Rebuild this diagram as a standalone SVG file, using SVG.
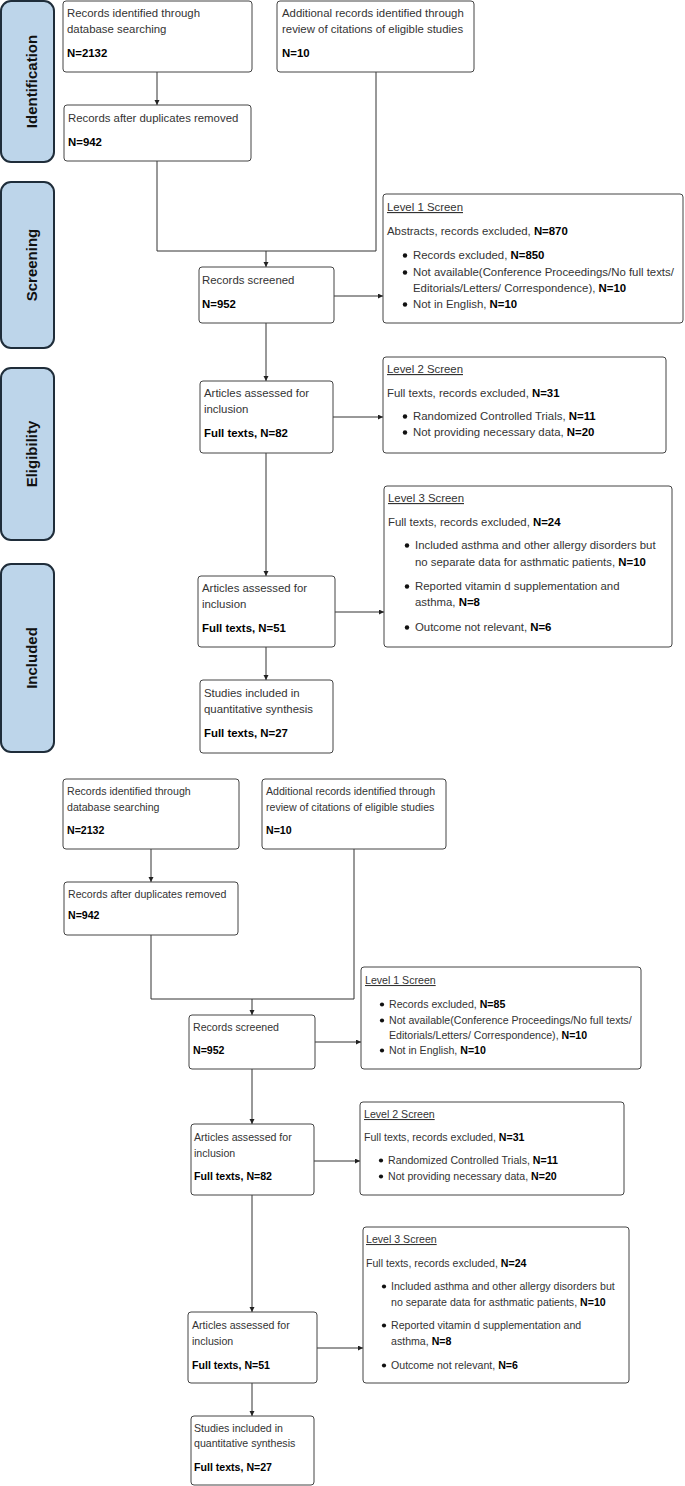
<svg xmlns="http://www.w3.org/2000/svg" width="685" height="1486" viewBox="0 0 685 1486">
<style>
.bg{fill:#fff}
.side rect{fill:#bdd5ea;stroke:#1f2d3a;stroke-width:2}
.side text{font-family:"Liberation Sans",Arial,sans-serif;font-weight:bold;font-size:15px;fill:#111;text-anchor:middle}
.box{fill:#fff;stroke:#444;stroke-width:1}
.t{font-family:"Liberation Sans",Arial,sans-serif;font-size:11.4px;fill:#333}
.b{font-family:"Liberation Sans",Arial,sans-serif;font-size:11.4px;fill:#000;font-weight:bold}
.t2{font-family:"Liberation Sans",Arial,sans-serif;font-size:10.6px;fill:#333}
.b2{font-family:"Liberation Sans",Arial,sans-serif;font-size:10.6px;fill:#000;font-weight:bold}
.nb{font-weight:bold;fill:#000}
.u{text-decoration:underline}
.dot{fill:#111}
.con line,.con polyline{stroke:#333;stroke-width:1;fill:none}
.arr{marker-end:url(#ah)}
</style>
<defs>
<marker id="ah" markerUnits="userSpaceOnUse" markerWidth="6" markerHeight="6" refX="5" refY="2.5" orient="auto">
<path d="M0,0 L5,2.5 L0,5 z" fill="#222"/>
</marker>
</defs>
<rect class="bg" x="0" y="0" width="685" height="1486"/>

<g id="side-identification" class="side"><rect x="1" y="1" width="53" height="161" rx="10"/><text transform="translate(37,81.5) rotate(-90)">Identification</text></g>
<g id="side-screening" class="side"><rect x="1" y="182" width="53" height="166" rx="10"/><text transform="translate(37,265) rotate(-90)">Screening</text></g>
<g id="side-eligibility" class="side"><rect x="1" y="368" width="53" height="172" rx="10"/><text transform="translate(37,454) rotate(-90)">Eligibility</text></g>
<g id="side-included" class="side"><rect x="1" y="564" width="53" height="188" rx="10"/><text transform="translate(37,658) rotate(-90)">Included</text></g>

<g class="con" id="connectors-top">
<line class="arr" x1="157" y1="72" x2="157" y2="105"/>
<polyline points="157,161 157,251 376,251"/>
<line x1="376" y1="72" x2="376" y2="251"/>
<line class="arr" x1="266" y1="251" x2="266" y2="267"/>
<line class="arr" x1="334" y1="296" x2="383" y2="296"/>
<line class="arr" x1="266" y1="323" x2="266" y2="381"/>
<line class="arr" x1="333" y1="417" x2="383" y2="417"/>
<line class="arr" x1="266" y1="453" x2="266" y2="576"/>
<line class="arr" x1="335" y1="612" x2="384" y2="612"/>
<line class="arr" x1="266" y1="647" x2="266" y2="680"/>
</g>

<g id="n-db1"><rect class="box" x="63" y="1" width="189" height="71" rx="3"/>
<text class="t" x="67" y="17">Records identified through</text>
<text class="t" x="67" y="33">database searching</text>
<text class="b" x="67" y="57">N=2132</text></g>

<g id="n-add1"><rect class="box" x="277" y="1" width="197" height="71" rx="3"/>
<text class="t" x="282" y="17">Additional records identified through</text>
<text class="t" x="282" y="33">review of citations of eligible studies</text>
<text class="b" x="282" y="57">N=10</text></g>

<g id="n-dup1"><rect class="box" x="64" y="105" width="187" height="56" rx="3"/>
<text class="t" x="68" y="122">Records after duplicates removed</text>
<text class="b" x="68" y="146">N=942</text></g>

<g id="n-scr1"><rect class="box" x="199" y="267" width="135" height="56" rx="3"/>
<text class="t" x="202" y="284">Records screened</text>
<text class="b" x="202" y="308">N=952</text></g>

<g id="n-l1a"><rect class="box" x="383" y="194" width="300" height="129" rx="3"/>
<text class="t u" x="387" y="211">Level 1 Screen</text>
<text class="t" x="387" y="235">Abstracts, records excluded, <tspan class="nb">N=870</tspan></text>
<circle class="dot" cx="405" cy="255.5" r="2.2"/>
<text class="t" x="413" y="259">Records excluded, <tspan class="nb">N=850</tspan></text>
<circle class="dot" cx="405" cy="272.5" r="2.2"/>
<text class="t" x="413" y="276">Not available(Conference Proceedings/No full texts/</text>
<text class="t" x="413" y="292">Editorials/Letters/ Correspondence), <tspan class="nb">N=10</tspan></text>
<circle class="dot" cx="405" cy="304.5" r="2.2"/>
<text class="t" x="413" y="308">Not in English, <tspan class="nb">N=10</tspan></text></g>

<g id="n-art1a"><rect class="box" x="200" y="381" width="133" height="72" rx="3"/>
<text class="t" x="204" y="397">Articles assessed for</text>
<text class="t" x="204" y="413">inclusion</text>
<text class="b" x="204" y="437">Full texts, N=82</text></g>

<g id="n-l2a"><rect class="box" x="383" y="357" width="283" height="96" rx="3"/>
<text class="t u" x="387" y="373">Level 2 Screen</text>
<text class="t" x="387" y="397">Full texts, records excluded, <tspan class="nb">N=31</tspan></text>
<circle class="dot" cx="405" cy="416.5" r="2.2"/>
<text class="t" x="413" y="420">Randomized Controlled Trials, <tspan class="nb">N=11</tspan></text>
<circle class="dot" cx="405" cy="432.5" r="2.2"/>
<text class="t" x="413" y="436">Not providing necessary data, <tspan class="nb">N=20</tspan></text></g>

<g id="n-art2a"><rect class="box" x="198" y="576" width="137" height="71" rx="3"/>
<text class="t" x="202" y="592">Articles assessed for</text>
<text class="t" x="202" y="608">inclusion</text>
<text class="b" x="202" y="632">Full texts, N=51</text></g>

<g id="n-l3a"><rect class="box" x="384" y="486" width="288" height="161" rx="3"/>
<text class="t u" x="388" y="502">Level 3 Screen</text>
<text class="t" x="388" y="526">Full texts, records excluded, <tspan class="nb">N=24</tspan></text>
<circle class="dot" cx="407" cy="545.5" r="2.2"/>
<text class="t" x="415" y="549">Included asthma and other allergy disorders but</text>
<text class="t" x="415" y="566">no separate data for asthmatic patients, <tspan class="nb">N=10</tspan></text>
<circle class="dot" cx="407" cy="586.5" r="2.2"/>
<text class="t" x="415" y="590">Reported vitamin d supplementation and</text>
<text class="t" x="415" y="606">asthma, <tspan class="nb">N=8</tspan></text>
<circle class="dot" cx="407" cy="627.5" r="2.2"/>
<text class="t" x="415" y="631">Outcome not relevant, <tspan class="nb">N=6</tspan></text></g>

<g id="n-stu1"><rect class="box" x="200" y="680" width="133" height="73" rx="3"/>
<text class="t" x="204" y="697">Studies included in</text>
<text class="t" x="204" y="713">quantitative synthesis</text>
<text class="b" x="204" y="737">Full texts, N=27</text></g>

<g class="con" id="connectors-bottom">
<line class="arr" x1="151" y1="849" x2="151" y2="882"/>
<polyline points="151,935 151,999 354,999"/>
<line x1="354" y1="849" x2="354" y2="999"/>
<line class="arr" x1="252" y1="999" x2="252" y2="1015"/>
<line class="arr" x1="315" y1="1042" x2="361" y2="1042"/>
<line class="arr" x1="252" y1="1069" x2="252" y2="1124"/>
<line class="arr" x1="314" y1="1161" x2="360" y2="1161"/>
<line class="arr" x1="252" y1="1195" x2="252" y2="1312"/>
<line class="arr" x1="317" y1="1348" x2="363" y2="1348"/>
<line class="arr" x1="252" y1="1383" x2="252" y2="1416"/>
</g>

<g id="n-db2"><rect class="box" x="63" y="779" width="176" height="70" rx="3"/>
<text class="t2" x="67" y="795">Records identified through</text>
<text class="t2" x="67" y="811">database searching</text>
<text class="b2" x="67" y="834">N=2132</text></g>

<g id="n-add2"><rect class="box" x="262" y="779" width="184" height="70" rx="3"/>
<text class="t2" x="266" y="795">Additional records identified through</text>
<text class="t2" x="266" y="811">review of citations of eligible studies</text>
<text class="b2" x="266" y="834">N=10</text></g>

<g id="n-dup2"><rect class="box" x="64" y="882" width="174" height="53" rx="3"/>
<text class="t2" x="68" y="898">Records after duplicates removed</text>
<text class="b2" x="68" y="919">N=942</text></g>

<g id="n-scr2"><rect class="box" x="189" y="1015" width="126" height="54" rx="3"/>
<text class="t2" x="193" y="1031">Records screened</text>
<text class="b2" x="193" y="1054">N=952</text></g>

<g id="n-l1b"><rect class="box" x="361" y="967" width="280" height="102" rx="3"/>
<text class="t2 u" x="365" y="984">Level 1 Screen</text>
<circle class="dot" cx="382" cy="1004.5" r="2.1"/>
<text class="t2" x="389" y="1008">Records excluded, <tspan class="nb">N=85</tspan></text>
<circle class="dot" cx="382" cy="1020.5" r="2.1"/>
<text class="t2" x="389" y="1024">Not available(Conference Proceedings/No full texts/</text>
<text class="t2" x="389" y="1039">Editorials/Letters/ Correspondence), <tspan class="nb">N=10</tspan></text>
<circle class="dot" cx="382" cy="1050.5" r="2.1"/>
<text class="t2" x="389" y="1054">Not in English, <tspan class="nb">N=10</tspan></text></g>

<g id="n-art1b"><rect class="box" x="191" y="1124" width="123" height="71" rx="3"/>
<text class="t2" x="194" y="1141">Articles assessed for</text>
<text class="t2" x="194" y="1157">inclusion</text>
<text class="b2" x="194" y="1180">Full texts, N=82</text></g>

<g id="n-l2b"><rect class="box" x="360" y="1102" width="264" height="93" rx="3"/>
<text class="t2 u" x="364" y="1118">Level 2 Screen</text>
<text class="t2" x="364" y="1141">Full texts, records excluded, <tspan class="nb">N=31</tspan></text>
<circle class="dot" cx="381" cy="1160.5" r="2.1"/>
<text class="t2" x="388" y="1164">Randomized Controlled Trials, <tspan class="nb">N=11</tspan></text>
<circle class="dot" cx="381" cy="1176.5" r="2.1"/>
<text class="t2" x="388" y="1180">Not providing necessary data, <tspan class="nb">N=20</tspan></text></g>

<g id="n-art2b"><rect class="box" x="188" y="1312" width="129" height="71" rx="3"/>
<text class="t2" x="192" y="1329">Articles assessed for</text>
<text class="t2" x="192" y="1345">inclusion</text>
<text class="b2" x="192" y="1369">Full texts, N=51</text></g>

<g id="n-l3b"><rect class="box" x="363" y="1227" width="266" height="156" rx="3"/>
<text class="t2 u" x="366" y="1243">Level 3 Screen</text>
<text class="t2" x="366" y="1267">Full texts, records excluded, <tspan class="nb">N=24</tspan></text>
<circle class="dot" cx="384" cy="1286.5" r="2.1"/>
<text class="t2" x="391" y="1290">Included asthma and other allergy disorders but</text>
<text class="t2" x="391" y="1306">no separate data for asthmatic patients, <tspan class="nb">N=10</tspan></text>
<circle class="dot" cx="384" cy="1325.5" r="2.1"/>
<text class="t2" x="391" y="1329">Reported vitamin d supplementation and</text>
<text class="t2" x="391" y="1345">asthma, <tspan class="nb">N=8</tspan></text>
<circle class="dot" cx="384" cy="1365.5" r="2.1"/>
<text class="t2" x="391" y="1369">Outcome not relevant, <tspan class="nb">N=6</tspan></text></g>

<g id="n-stu2"><rect class="box" x="191" y="1416" width="123" height="69" rx="3"/>
<text class="t2" x="194" y="1432">Studies included in</text>
<text class="t2" x="194" y="1447">quantitative synthesis</text>
<text class="b2" x="194" y="1471">Full texts, N=27</text></g>
</svg>
